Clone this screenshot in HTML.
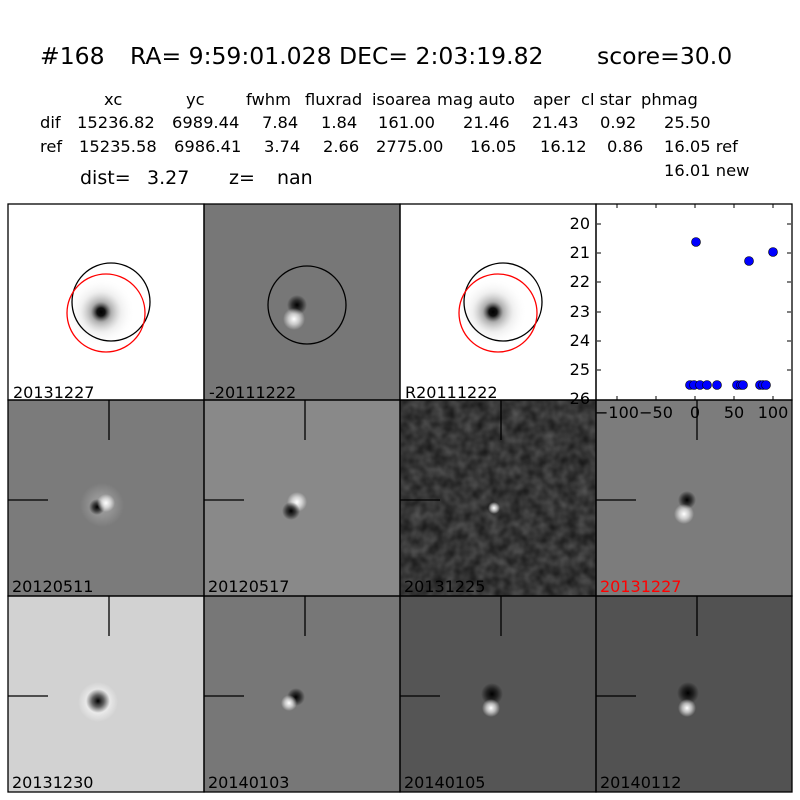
<!DOCTYPE html>
<html><head><meta charset="utf-8"><style>
body{margin:0;background:#fff;width:800px;height:800px;overflow:hidden}
svg{display:block}
text{font-family:"DejaVu Sans","Liberation Sans",sans-serif}
</style></head><body>
<svg width="800" height="800" viewBox="0 0 800 800" xmlns="http://www.w3.org/2000/svg">
<defs>
<radialGradient id="star"><stop offset="0" stop-color="#000"/><stop offset="0.12" stop-color="#111"/><stop offset="0.3" stop-color="#777" stop-opacity="0.6"/><stop offset="0.6" stop-color="#ccc" stop-opacity="0.3"/><stop offset="1" stop-color="#fff" stop-opacity="0"/></radialGradient>
<radialGradient id="dk"><stop offset="0" stop-color="#000"/><stop offset="0.5" stop-color="#000" stop-opacity="0.6"/><stop offset="1" stop-color="#000" stop-opacity="0"/></radialGradient>
<radialGradient id="wt"><stop offset="0" stop-color="#fff"/><stop offset="0.5" stop-color="#fff" stop-opacity="0.6"/><stop offset="1" stop-color="#fff" stop-opacity="0"/></radialGradient>
<filter id="noise" x="0" y="0" width="100%" height="100%"><feTurbulence type="fractalNoise" baseFrequency="0.09" numOctaves="2" seed="3"/><feColorMatrix type="matrix" values="0 0 0 0 0  0 0 0 0 0  0 0 0 0 0  0 0 0 0.9 0"/></filter>
<clipPath id="c3"><rect x="400" y="400" width="196" height="196"/></clipPath>
</defs>
<text x="40" y="64" font-size="23.5">#168</text>
<text x="130" y="64" font-size="23.5">RA= 9:59:01.028 DEC= 2:03:19.82</text>
<text x="597" y="64" font-size="23.5">score=30.0</text>
<g font-size="16.3">
<text x="104" y="105">xc</text><text x="186" y="105">yc</text><text x="246" y="105">fwhm</text><text x="305" y="105">fluxrad</text><text x="372" y="105">isoarea</text><text x="437" y="105">mag auto</text><text x="533" y="105">aper</text><text x="581" y="105">cl star</text><text x="641" y="105">phmag</text>
<text x="40" y="128">dif</text><text x="77" y="128">15236.82</text><text x="172" y="128">6989.44</text><text x="262" y="128">7.84</text><text x="321" y="128">1.84</text><text x="378" y="128">161.00</text><text x="463" y="128">21.46</text><text x="532" y="128">21.43</text><text x="600" y="128">0.92</text><text x="664" y="128">25.50</text>
<text x="40" y="152">ref</text><text x="79" y="152">15235.58</text><text x="174" y="152">6986.41</text><text x="264" y="152">3.74</text><text x="323" y="152">2.66</text><text x="376" y="152">2775.00</text><text x="470" y="152">16.05</text><text x="540" y="152">16.12</text><text x="607" y="152">0.86</text><text x="664" y="152">16.05 ref</text>
<text x="664" y="176">16.01 new</text>
</g>
<text x="80" y="184" font-size="19">dist=</text><text x="147" y="184" font-size="19">3.27</text><text x="229" y="184" font-size="19">z=</text><text x="277" y="184" font-size="19">nan</text>

<!-- row 1 -->
<rect x="8" y="204" width="196" height="196" fill="#fff"/>
<circle cx="101" cy="312" r="34" fill="url(#star)"/>
<circle cx="111" cy="302" r="39" fill="none" stroke="#000" stroke-width="1.3"/>
<circle cx="106" cy="313" r="39" fill="none" stroke="#f00" stroke-width="1.3"/>
<rect x="204" y="204" width="196" height="196" fill="#777"/>
<circle cx="297" cy="305" r="10" fill="url(#dk)"/><circle cx="294" cy="319" r="11" fill="url(#wt)"/>
<circle cx="307" cy="305" r="39" fill="none" stroke="#000" stroke-width="1.3"/>
<rect x="400" y="204" width="196" height="196" fill="#fff"/>
<circle cx="493" cy="312" r="34" fill="url(#star)"/>
<circle cx="503" cy="302" r="39" fill="none" stroke="#000" stroke-width="1.3"/>
<circle cx="498" cy="313" r="39" fill="none" stroke="#f00" stroke-width="1.3"/>
<rect x="596" y="204" width="196" height="196" fill="#fff"/>

<!-- row 2 -->
<rect x="8" y="400" width="196" height="196" fill="#7b7b7b"/>
<circle cx="102" cy="505" r="22" fill="url(#wt)" opacity="0.3"/>
<circle cx="97" cy="507" r="8" fill="url(#dk)"/><circle cx="106" cy="503" r="9" fill="url(#wt)"/>
<rect x="204" y="400" width="196" height="196" fill="#898989"/>
<circle cx="297" cy="502" r="10" fill="url(#wt)"/><circle cx="291" cy="511" r="9" fill="url(#dk)"/>
<rect x="400" y="400" width="196" height="196" fill="#5a5a5a"/>
<rect x="400" y="400" width="196" height="196" fill="#9a9a9a" filter="url(#noise)" clip-path="url(#c3)" opacity="0.9"/>
<circle cx="494" cy="508" r="6" fill="url(#wt)"/>
<rect x="596" y="400" width="196" height="196" fill="#7c7c7c"/>
<circle cx="687" cy="500" r="9" fill="url(#dk)"/><circle cx="684" cy="514" r="10" fill="url(#wt)"/>

<!-- row 3 -->
<rect x="8" y="596" width="196" height="196" fill="#d2d2d2"/>
<circle cx="98" cy="702" r="20" fill="url(#wt)"/>
<circle cx="98" cy="701" r="12" fill="url(#dk)"/>
<rect x="204" y="596" width="196" height="196" fill="#777"/>
<circle cx="296" cy="697" r="9" fill="url(#dk)"/><circle cx="289" cy="703" r="8" fill="url(#wt)"/>
<rect x="400" y="596" width="196" height="196" fill="#555"/>
<circle cx="492" cy="694" r="11" fill="url(#dk)"/><circle cx="491" cy="708" r="9" fill="url(#wt)"/>
<rect x="596" y="596" width="196" height="196" fill="#525252"/>
<circle cx="688" cy="693" r="11" fill="url(#dk)"/><circle cx="687" cy="708" r="9" fill="url(#wt)"/>

<!-- crosshairs -->
<g stroke="#000" stroke-width="1.3">
<line x1="109" y1="400" x2="109" y2="440"/><line x1="8" y1="500" x2="48" y2="500"/>
<line x1="305" y1="400" x2="305" y2="440"/><line x1="204" y1="500" x2="244" y2="500"/>
<line x1="501" y1="400" x2="501" y2="440"/><line x1="400" y1="500" x2="440" y2="500"/>
<line x1="697" y1="400" x2="697" y2="440"/><line x1="596" y1="500" x2="636" y2="500"/>
<line x1="109" y1="596" x2="109" y2="636"/><line x1="8" y1="696" x2="48" y2="696"/>
<line x1="305" y1="596" x2="305" y2="636"/><line x1="204" y1="696" x2="244" y2="696"/>
<line x1="501" y1="596" x2="501" y2="636"/><line x1="400" y1="696" x2="440" y2="696"/>
<line x1="697" y1="596" x2="697" y2="636"/><line x1="596" y1="696" x2="636" y2="696"/>
</g>

<!-- scatter -->
<g stroke="#000" stroke-width="1">
<line x1="597" y1="224" x2="601" y2="224"/><line x1="597" y1="253" x2="601" y2="253"/><line x1="597" y1="282" x2="601" y2="282"/><line x1="597" y1="312" x2="601" y2="312"/><line x1="597" y1="341" x2="601" y2="341"/><line x1="597" y1="370" x2="601" y2="370"/>
<line x1="787" y1="224" x2="791" y2="224"/><line x1="787" y1="253" x2="791" y2="253"/><line x1="787" y1="282" x2="791" y2="282"/><line x1="787" y1="312" x2="791" y2="312"/><line x1="787" y1="341" x2="791" y2="341"/><line x1="787" y1="370" x2="791" y2="370"/>
<line x1="617" y1="204" x2="617" y2="208"/><line x1="656" y1="204" x2="656" y2="208"/><line x1="695" y1="204" x2="695" y2="208"/><line x1="734" y1="204" x2="734" y2="208"/><line x1="773" y1="204" x2="773" y2="208"/>
<line x1="617" y1="400" x2="617" y2="396"/><line x1="656" y1="400" x2="656" y2="396"/><line x1="695" y1="400" x2="695" y2="396"/><line x1="734" y1="400" x2="734" y2="396"/><line x1="773" y1="400" x2="773" y2="396"/>
</g>
<g fill="#00f" stroke="#000" stroke-width="0.6">
<circle cx="696" cy="242" r="4.5"/><circle cx="749" cy="261" r="4.5"/><circle cx="773" cy="252" r="4.5"/>
<circle cx="690" cy="385" r="4.5"/><circle cx="694" cy="385" r="4.5"/><circle cx="700" cy="385" r="4.5"/><circle cx="707" cy="385" r="4.5"/><circle cx="717" cy="385" r="4.5"/><circle cx="737" cy="385" r="4.5"/><circle cx="741" cy="385" r="4.5"/><circle cx="743" cy="385" r="4.5"/><circle cx="760" cy="385" r="4.5"/><circle cx="763" cy="385" r="4.5"/><circle cx="766" cy="385" r="4.5"/>
</g>
<g font-size="16" text-anchor="end">
<text x="590" y="229">20</text><text x="590" y="258">21</text><text x="590" y="287">22</text><text x="590" y="317">23</text><text x="590" y="346">24</text><text x="590" y="375">25</text><text x="590" y="404">26</text>
</g>
<g font-size="16" text-anchor="middle">
<text x="617" y="418">−100</text><text x="656" y="418">−50</text><text x="695" y="418">0</text><text x="734" y="418">50</text><text x="773" y="418">100</text>
</g>

<!-- borders -->
<g fill="none" stroke="#000" stroke-width="1.3">
<rect x="8" y="204" width="196" height="196"/><rect x="204" y="204" width="196" height="196"/><rect x="400" y="204" width="196" height="196"/><rect x="596" y="204" width="196" height="196"/>
<rect x="8" y="400" width="196" height="196"/><rect x="204" y="400" width="196" height="196"/><rect x="400" y="400" width="196" height="196"/><rect x="596" y="400" width="196" height="196"/>
<rect x="8" y="596" width="196" height="196"/><rect x="204" y="596" width="196" height="196"/><rect x="400" y="596" width="196" height="196"/><rect x="596" y="596" width="196" height="196"/>
</g>

<g font-size="16">
<text x="13" y="398">20131227</text><text x="209" y="398">-20111222</text><text x="405" y="398">R20111222</text>
<text x="12" y="592">20120511</text><text x="208" y="592">20120517</text><text x="404" y="592">20131225</text><text x="600" y="592" fill="#f00">20131227</text>
<text x="12" y="788">20131230</text><text x="208" y="788">20140103</text><text x="404" y="788">20140105</text><text x="600" y="788">20140112</text>
</g>
</svg>
</body></html>
